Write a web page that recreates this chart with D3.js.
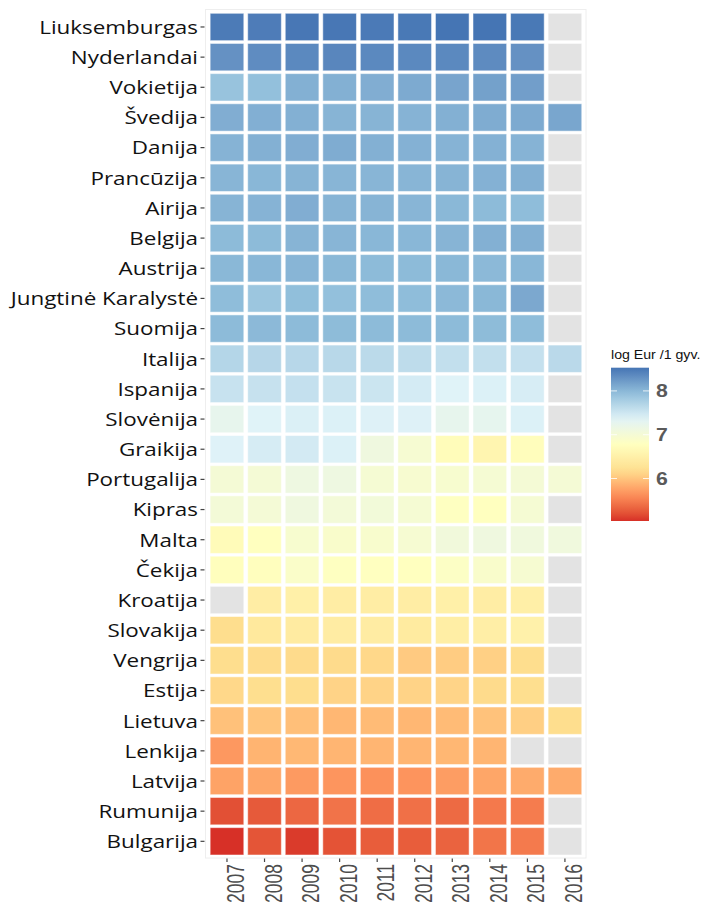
<!DOCTYPE html>
<html>
<head>
<meta charset="utf-8">
<script src="https://cdn.jsdelivr.net/npm/d3@7"></script>
<style>
  body { margin: 0; background: #fff; }
</style>
</head>
<body>
<svg id="chart" width="710" height="904"></svg>
<script>
// データ
var countries = ["Liuksemburgas", "Nyderlandai", "Vokietija", "Švedija", "Danija", "Prancūzija", "Airija", "Belgija", "Austrija", "Jungtinė Karalystė", "Suomija", "Italija", "Ispanija", "Slovėnija", "Graikija", "Portugalija", "Kipras", "Malta", "Čekija", "Kroatija", "Slovakija", "Vengrija", "Estija", "Lietuva", "Lenkija", "Latvija", "Rumunija", "Bulgarija"];
var years = ["2007", "2008", "2009", "2010", "2011", "2012", "2013", "2014", "2015", "2016"];
var values = [
  [8.48, 8.47, 8.51, 8.51, 8.49, 8.50, 8.53, 8.53, 8.50, null],
  [8.30, 8.34, 8.37, 8.39, 8.37, 8.37, 8.37, 8.35, 8.30, null],
  [7.90, 7.93, 8.06, 8.06, 8.08, 8.11, 8.15, 8.18, 8.20, null],
  [8.08, 8.07, 8.06, 8.03, 8.03, 8.04, 8.06, 8.09, 8.11, 8.14],
  [8.04, 8.06, 8.08, 8.09, 8.06, 8.05, 8.04, 8.05, 8.04, null],
  [8.02, 8.01, 8.03, 8.02, 8.02, 8.02, 8.03, 8.05, 8.06, null],
  [8.03, 8.04, 8.08, 8.03, 8.03, 8.02, 8.00, 7.98, 7.96, null],
  [7.98, 7.98, 8.03, 8.02, 8.01, 8.01, 8.03, 8.06, 8.06, null],
  [8.00, 8.01, 8.02, 8.00, 7.98, 7.98, 8.00, 7.99, 8.01, null],
  [7.96, 7.87, 7.95, 7.93, 7.96, 7.96, 7.99, 8.00, 8.12, null],
  [7.98, 7.99, 7.98, 7.97, 7.98, 7.98, 7.98, 7.97, 7.96, null],
  [7.69, 7.68, 7.67, 7.66, 7.64, 7.62, 7.59, 7.59, 7.57, 7.65],
  [7.55, 7.56, 7.57, 7.54, 7.52, 7.45, 7.36, 7.39, 7.43, null],
  [7.25, 7.36, 7.40, 7.39, 7.38, 7.38, 7.25, 7.26, 7.39, null],
  [7.37, 7.44, 7.46, 7.39, 7.10, 6.97, 6.72, 6.60, 6.74, null],
  [7.00, 7.00, 7.12, 7.12, 6.98, 6.95, 6.94, 6.98, 7.00, 7.00],
  [7.02, 7.01, 7.10, 7.03, 7.04, 6.98, 6.80, 6.78, 6.98, null],
  [6.70, 6.78, 6.94, 6.90, 6.92, 6.97, 7.06, 7.10, 7.08, 7.08],
  [6.76, 6.77, 6.88, 6.80, 6.79, 6.78, 6.84, 6.90, 6.96, null],
  [null, 6.45, 6.50, 6.45, 6.44, 6.45, 6.50, 6.44, 6.48, null],
  [6.18, 6.36, 6.41, 6.43, 6.43, 6.40, 6.46, 6.47, 6.52, null],
  [6.18, 6.17, 6.16, 6.16, 6.14, 6.04, 6.05, 6.08, 6.18, null],
  [6.14, 6.19, 6.18, 6.10, 6.10, 6.10, 6.11, 6.16, 6.19, null],
  [5.97, 6.00, 5.96, 5.90, 5.93, 5.90, 5.93, 5.98, 6.07, 6.18],
  [5.69, 5.88, 5.91, 5.89, 5.89, 5.89, 5.90, 5.89, null, null],
  [5.76, 5.79, 5.70, 5.67, 5.64, 5.66, 5.72, 5.78, 5.82, 5.82],
  [5.20, 5.26, 5.35, 5.43, 5.39, 5.41, 5.37, 5.47, 5.49, null],
  [5.03, 5.23, 5.08, 5.22, 5.28, 5.28, 5.32, 5.44, 5.48, null]
];
var legendTicks = [6, 7, 8];
var legendTitle = "log Eur /1 gyv.";

// セル
var cells = [];
countries.forEach((c, i) => {
  years.forEach((y, j) => {
    cells.push({ country: c, year: y, value: values[i][j] });
  });
});

var svg = d3.select("#chart");
var sx = 1.18; // 横方向の引き伸ばし

var x = d3.scaleBand().domain(years).range([208.2, 583.7]);
var y = d3.scaleBand().domain(countries).range([11.9, 856.4]);

var ext = d3.extent(cells.filter((d) => d.value != null), (d) => d.value);
var palette = ["#d73027", "#fc8d59", "#fee090", "#ffffbf", "#e0f3f8", "#91bfdb", "#4575b4"];
var color = d3
  .scaleLinear()
  .domain(palette.map((p, k) => ext[0] + (k / (palette.length - 1)) * (ext[1] - ext[0])))
  .range(palette)
  .interpolate(d3.interpolateLab);

// パネル
svg
  .append("rect")
  .attr("x", 205.5)
  .attr("y", 9.5)
  .attr("width", 380.5)
  .attr("height", 848.5)
  .attr("fill", "#fff")
  .attr("stroke", "#eeeeee");

// タイル
var padX = 1.95, padY = 1.4;
svg
  .append("g")
  .selectAll("rect")
  .data(cells)
  .enter()
  .append("rect")
  .attr("x", (d) => x(d.year) + padX)
  .attr("y", (d) => y(d.country) + padY)
  .attr("width", x.bandwidth() - 2 * padX)
  .attr("height", y.bandwidth() - 2 * padY)
  .attr("fill", (d) => (d.value == null ? "#e3e3e3" : color(d.value)))
  .attr("stroke", "#ffffff")
  .attr("stroke-opacity", 0.5)
  .attr("stroke-width", 1);

// y軸
var yAxis = svg.append("g");
yAxis
  .selectAll("line")
  .data(countries)
  .enter()
  .append("line")
  .attr("x1", 200.5)
  .attr("x2", 204.5)
  .attr("y1", (d) => y(d) + y.bandwidth() / 2)
  .attr("y2", (d) => y(d) + y.bandwidth() / 2)
  .attr("stroke", "#444")
  .attr("stroke-width", 1.2);
yAxis
  .selectAll("text")
  .data(countries)
  .enter()
  .append("text")
  .attr("transform", (d) => `translate(198,${y(d) + y.bandwidth() / 2}) scale(${sx},1)`)
  .attr("text-anchor", "end")
  .attr("dy", "0.36em")
  .attr("font-family", "'Open Sans', sans-serif")
  .attr("font-size", 19)
  .attr("fill", "#111")
  .text((d) => d);

// x軸
var xAxis = svg.append("g");
xAxis
  .selectAll("line")
  .data(years)
  .enter()
  .append("line")
  .attr("x1", (d) => x(d) + x.bandwidth() / 2)
  .attr("x2", (d) => x(d) + x.bandwidth() / 2)
  .attr("y1", 858.5)
  .attr("y2", 862)
  .attr("stroke", "#444")
  .attr("stroke-width", 1.2);
xAxis
  .selectAll("text")
  .data(years)
  .enter()
  .append("text")
  .attr("transform", (d) => `translate(${x(d) + x.bandwidth() / 2 + 17},864) scale(1.35,1) rotate(-90)`)
  .attr("text-anchor", "end")
  .attr("font-family", "'Liberation Sans', Arial, sans-serif")
  .attr("font-size", 17.5)
  .attr("fill", "#4d4d4d")
  .text((d) => d);

// 凡例
var legX = 611, legW = 38;
var ly = d3.scaleLinear().domain(ext).range([521, 367.7]);
var grad = svg
  .append("defs")
  .append("linearGradient")
  .attr("id", "legendGrad")
  .attr("x1", 0)
  .attr("x2", 0)
  .attr("y1", 1)
  .attr("y2", 0);
grad
  .selectAll("stop")
  .data(d3.range(0, 1.0001, 0.05))
  .enter()
  .append("stop")
  .attr("offset", (t) => t)
  .attr("stop-color", (t) => color(ext[0] + t * (ext[1] - ext[0])));

svg
  .append("text")
  .attr("transform", `translate(${legX},359) scale(${sx},1)`)
  .attr("font-family", "'Liberation Sans', Arial, sans-serif")
  .attr("font-size", 12)
  .attr("fill", "#111")
  .text(legendTitle);

svg
  .append("rect")
  .attr("x", legX)
  .attr("y", ly(ext[1]))
  .attr("width", legW)
  .attr("height", ly(ext[0]) - ly(ext[1]))
  .attr("fill", "url(#legendGrad)");

var legTick = svg.append("g");
legendTicks.forEach((v) => {
  legTick
    .append("line")
    .attr("x1", legX)
    .attr("x2", legX + 6)
    .attr("y1", ly(v))
    .attr("y2", ly(v))
    .attr("stroke", "#fff")
    .attr("stroke-opacity", 0.8);
  legTick
    .append("line")
    .attr("x1", legX + legW - 6)
    .attr("x2", legX + legW)
    .attr("y1", ly(v))
    .attr("y2", ly(v))
    .attr("stroke", "#fff")
    .attr("stroke-opacity", 0.8);
  legTick
    .append("text")
    .attr("transform", `translate(656,${ly(v)}) scale(${sx},1)`)
    .attr("dy", "0.36em")
    .attr("font-family", "'Liberation Sans', Arial, sans-serif")
    .attr("font-weight", "bold")
    .attr("font-size", 18)
    .attr("fill", "#5a5a5a")
    .text(v);
});
</script>
</body>
</html>
